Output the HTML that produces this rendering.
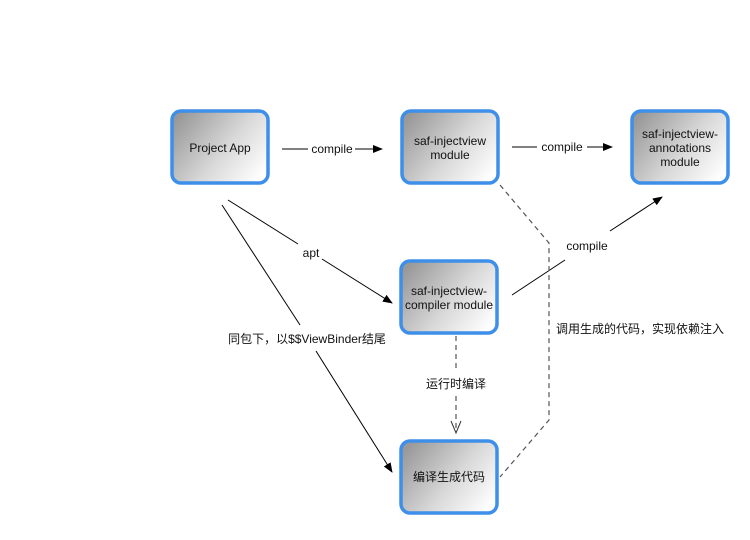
<!DOCTYPE html>
<html><head><meta charset="utf-8"><style>
body{margin:0;background:#fff;}
svg text{font-family:"Liberation Sans","Noto Sans CJK SC",sans-serif;font-size:12px;fill:#111;}
</style></head><body>
<svg width="750" height="535" viewBox="0 0 750 535" xmlns="http://www.w3.org/2000/svg">
<defs>
<linearGradient id="g" x1="0" y1="0.2" x2="1" y2="0.8">
<stop offset="0" stop-color="#999"/><stop offset="0.55" stop-color="#d8d8d8"/><stop offset="1" stop-color="#ffffff"/>
</linearGradient>
<marker id="a" markerWidth="10" markerHeight="8" refX="9" refY="4" orient="auto" markerUnits="userSpaceOnUse">
<path d="M0,0 L10,4 L0,8 z" fill="#000"/></marker>
</defs>
<g stroke="#3d8fe9" stroke-width="3.5" fill="url(#g)">
<rect x="172" y="111" width="96" height="72" rx="9"/>
<rect x="402" y="111" width="96" height="72" rx="9"/>
<rect x="632" y="111" width="96" height="72" rx="9"/>
<rect x="401" y="261" width="96" height="72" rx="9"/>
<rect x="401" y="441" width="96" height="72" rx="9"/>
</g>
<g text-anchor="middle">
<text x="220" y="152">Project App</text>
<text x="450" y="145">saf-injectview</text><text x="450" y="159">module</text>
<text x="680" y="138">saf-injectview-</text><text x="680" y="152">annotations</text><text x="680" y="166">module</text>
<text x="449" y="295">saf-injectview-</text><text x="449" y="309">compiler module</text>
<text x="449" y="481">编译生成代码</text>
</g>
<g stroke="#000" stroke-width="1" fill="none">
<line x1="282" y1="149" x2="308" y2="149"/><line x1="355" y1="149" x2="382" y2="149" marker-end="url(#a)"/>
<line x1="512" y1="147" x2="537" y2="147"/><line x1="587" y1="147" x2="612" y2="147" marker-end="url(#a)"/>
<line x1="512" y1="295" x2="565" y2="260"/><line x1="610" y1="231" x2="662" y2="197" marker-end="url(#a)"/>
<line x1="228" y1="200" x2="298" y2="244"/><line x1="322" y1="259" x2="392" y2="303" marker-end="url(#a)"/>
<line x1="222" y1="205" x2="300" y2="325"/><line x1="316" y1="351" x2="392" y2="472" marker-end="url(#a)"/>
</g>
<g stroke="#555" stroke-width="1.2" fill="none" stroke-dasharray="5,4">
<line x1="456" y1="336" x2="456" y2="370"/><line x1="456" y1="396" x2="456" y2="432"/>
<path d="M500,185 L549,243 L549,420 L500,477"/>
</g>
<path d="M451,421 L456,433 L461,421" stroke="#333" fill="none"/>
<g text-anchor="middle">
<text x="332" y="153">compile</text>
<text x="562" y="151">compile</text>
<text x="587" y="250">compile</text>
<text x="311" y="257">apt</text>
<text x="307" y="343">同包下，以$$ViewBinder结尾</text>
<text x="456" y="388">运行时编译</text>
<text x="640" y="333">调用生成的代码，实现依赖注入</text>
</g>
</svg>
</body></html>
